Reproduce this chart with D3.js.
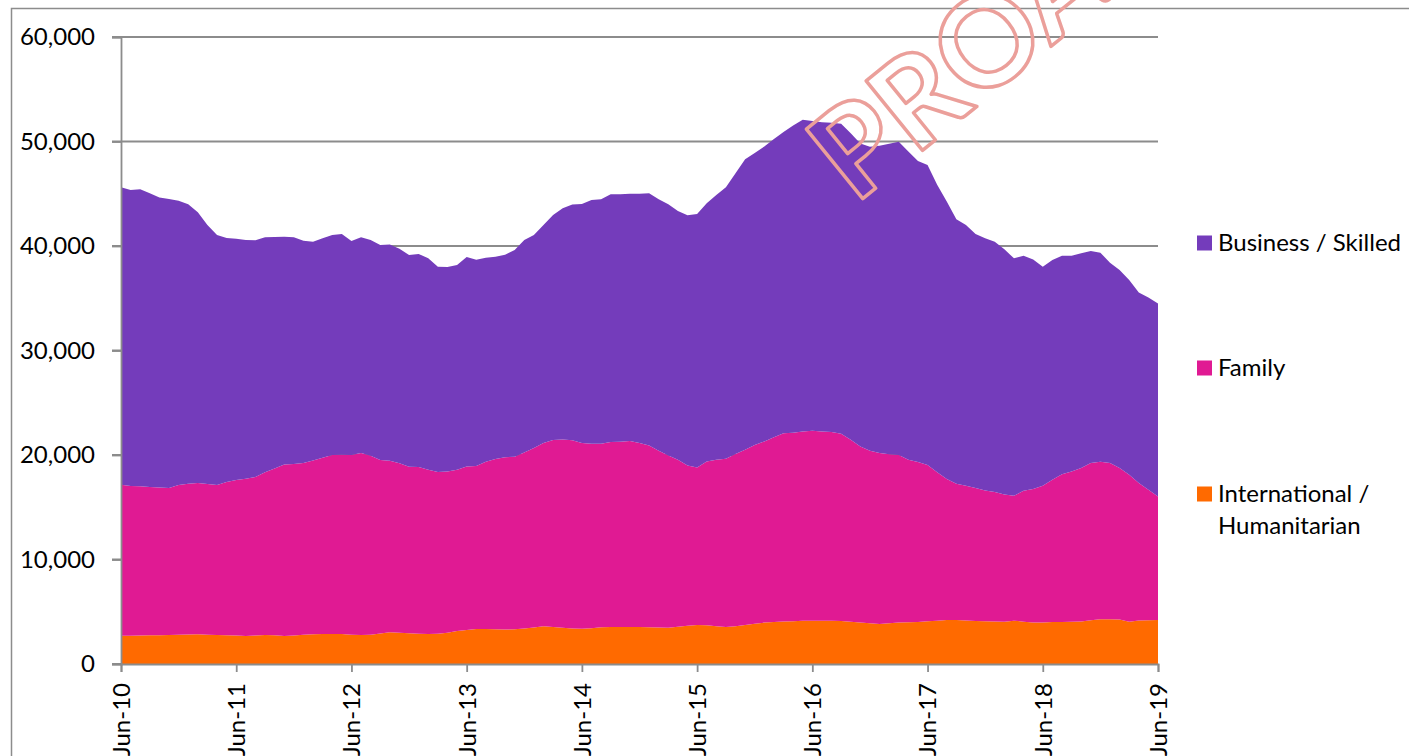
<!DOCTYPE html>
<html>
    <head>
        <script src="https://d3js.org/d3.v7.min.js"></script>
        <style>
            body { margin: 0; background: #fff; }
            text { font-family: Lato, "Open Sans", sans-serif; fill: #000; }
        </style>
    </head>
    <body>
        <div id="chart"></div>

        <script>
            // monthly figures, Jun-10 .. Jun-19 (109 months)
            var tickLabels = ["Jun-10", "Jun-11", "Jun-12", "Jun-13", "Jun-14", "Jun-15", "Jun-16", "Jun-17", "Jun-18", "Jun-19"];
            var seriesNames = ["International / Humanitarian", "Family", "Business / Skilled"];

            var international = [
                2700, 2710, 2720, 2740, 2760, 2780, 2800, 2820, 2840, 2800, 2780, 2760,
                2720, 2690, 2720, 2780, 2760, 2690, 2720, 2790, 2850, 2870, 2870, 2860,
                2800, 2780, 2800, 2930, 3050, 3000, 2940, 2890, 2870, 2900, 3000, 3150,
                3250, 3340, 3340, 3330, 3300, 3320, 3400, 3500, 3620, 3550, 3480, 3400,
                3380, 3420, 3520, 3540, 3540, 3540, 3530, 3510, 3490, 3480, 3560, 3650,
                3730, 3720, 3620, 3540, 3620, 3740, 3860, 3960, 4020, 4060, 4100, 4130,
                4150, 4150, 4140, 4110, 4040, 3970, 3900, 3830, 3890, 3960, 4000, 4030,
                4080, 4150, 4210, 4200, 4160, 4120, 4090, 4060, 4050, 4150, 4050, 3960,
                3980, 4010, 4030, 4050, 4070, 4180, 4280, 4290, 4250, 4050, 4170, 4180,
                4200
            ];
            var family = [
                14460, 14320, 14280, 14200, 14140, 14060, 14330, 14430, 14480, 14420, 14350, 14660,
                14890, 15040, 15170, 15560, 15960, 16410, 16410, 16440, 16630, 16870, 17130, 17170,
                17200, 17410, 17130, 16590, 16410, 16200, 15940, 15960, 15720, 15470, 15430, 15440,
                15660, 15610, 16020, 16290, 16480, 16520, 16850, 17170, 17530, 17880, 18010, 18000,
                17770, 17660, 17560, 17700, 17730, 17800, 17620, 17410, 16920, 16480, 15990, 15350,
                15080, 15670, 15930, 16110, 16480, 16770, 17100, 17340, 17670, 18010, 18030, 18130,
                18180, 18110, 18060, 17930, 17420, 16850, 16510, 16360, 16170, 16040, 15550, 15300,
                14960, 14190, 13490, 13050, 12900, 12720, 12520, 12400, 12180, 11950, 12530, 12790,
                13080, 13630, 14120, 14380, 14680, 15050, 15080, 14940, 14500, 14060, 13150, 12500,
                11840
            ];
            var business = [
                28470, 28340, 28440, 28110, 27730, 27660, 27210, 26750, 25910, 24790, 23920, 23350,
                23090, 22850, 22660, 22490, 22140, 21790, 21700, 21280, 20930, 21000, 21050, 21120,
                20480, 20640, 20640, 20580, 20680, 20540, 20260, 20390, 20230, 19650, 19560, 19590,
                20040, 19740, 19520, 19360, 19390, 19780, 20330, 20380, 20860, 21540, 22120, 22560,
                22880, 23330, 23390, 23720, 23690, 23650, 23850, 24130, 24060, 24040, 23810, 23940,
                24260, 24700, 25340, 25980, 26870, 27800, 27930, 28220, 28540, 28830, 29410, 29820,
                29620, 29590, 29600, 29660, 29340, 28980, 29090, 29410, 29720, 29970, 29490, 28810,
                28720, 27510, 26550, 25310, 24950, 24310, 24130, 23950, 23450, 22720, 22490, 21970,
                20960, 21020, 20920, 20640, 20550, 20290, 20000, 19170, 18950, 18630, 18240, 18400,
                18460
            ];
            var yTicks = [0, 10000, 20000, 30000, 40000, 50000, 60000];

            var colors = ["#ff6a00", "#e01a93", "#743cbb"];

            var W = 1409, H = 756;
            var plotL = 121, plotR = 1158, plotT = 37, plotB = 664;

            var rows = international.map(function(d, i) {
                return { i: i, intl: d, fam: family[i], bus: business[i] };
            });

            var x = d3.scaleLinear().domain([0, rows.length - 1]).range([plotL, plotR]);
            var y = d3.scaleLinear().domain([0, 60000]).range([plotB, plotT]);

            var svg = d3.select('#chart').append('svg').attr('width', W).attr('height', H);

            // outer chart frame
            svg.append('rect').attr('x', 11.5).attr('y', 8.5).attr('width', 1500).attr('height', 900)
                .attr('fill', 'none').attr('stroke', '#8c8c8c').attr('stroke-width', 1.5);

            // gridlines behind the areas
            svg.append('g').selectAll('line').data(yTicks).enter().append('line')
                .attr('x1', plotL - 9).attr('x2', plotR)
                .attr('y1', function(d) { return y(d); }).attr('y2', function(d) { return y(d); })
                .attr('stroke', '#8c8c8c').attr('stroke-width', 1.8);

            var stack = d3.stack().keys(["intl", "fam", "bus"]);
            var layers = stack(rows);

            var area = d3.area()
                .x(function(d) { return x(d.data.i); })
                .y0(function(d) { return y(d[0]); })
                .y1(function(d) { return y(d[1]); });

            svg.append('g').selectAll('path').data(layers).enter().append('path')
                .attr('d', area)
                .attr('fill', function(d, i) { return colors[i]; });

            // y axis
            var yAxis = svg.append('g').attr('transform', 'translate(' + plotL + ',0)')
                .call(d3.axisLeft(y).tickValues(yTicks).tickFormat(d3.format(",")).tickSize(9).tickPadding(17));
            yAxis.selectAll('line, path').attr('stroke', '#8c8c8c').attr('stroke-width', 1.8);
            yAxis.selectAll('text').style('font-size', '24px').attr('fill', '#000');

            // x axis, one tick per June
            var xTickIdx = tickLabels.map(function(d, i) { return i * 12; });
            var xAxis = svg.append('g').attr('transform', 'translate(0,' + plotB + ')')
                .call(d3.axisBottom(x).tickValues(xTickIdx).tickSize(8)
                    .tickFormat(function(d, i) { return tickLabels[i]; }));
            xAxis.selectAll('line, path').attr('stroke', '#8c8c8c').attr('stroke-width', 1.8);
            xAxis.selectAll('text')
                .style('font-size', '24px').attr('fill', '#000')
                .attr('text-anchor', 'end')
                .attr('transform', 'rotate(-90)')
                .attr('x', -19).attr('y', 0).attr('dy', '0.35em');

            // legend (top series first)
            var legendY = [243, 368, 494];
            var lg = svg.append('g');
            [2, 1, 0].forEach(function(k, j) {
                lg.append('rect').attr('x', 1197).attr('y', legendY[j] - 7.5)
                    .attr('width', 15).attr('height', 15).attr('fill', colors[k]);
            });
            lg.append('text').attr('x', 1218).attr('y', legendY[0]).attr('dy', '0.35em')
                .style('font-size', '24px').text(seriesNames[2]);
            lg.append('text').attr('x', 1218).attr('y', legendY[1]).attr('dy', '0.35em')
                .style('font-size', '24px').text(seriesNames[1]);
            var t3 = lg.append('text').attr('x', 1218).attr('y', legendY[2]).attr('dy', '0.35em')
                .style('font-size', '24px');
            t3.append('tspan').attr('x', 1218).text("International /");
            t3.append('tspan').attr('x', 1218).attr('dy', 32).text("Humanitarian");

            // watermark stamp
            svg.append('text')
                .attr('transform', 'translate(855,205) rotate(-39)')
                .style('font-size', '124px')
                .style('font-weight', 'bold')
                .style('fill', 'none')
                .attr('stroke', '#eb9f9a').attr('stroke-width', 3.5).attr('stroke-linejoin', 'round')
                .text("PROA");
        </script>
    </body>
</html>
